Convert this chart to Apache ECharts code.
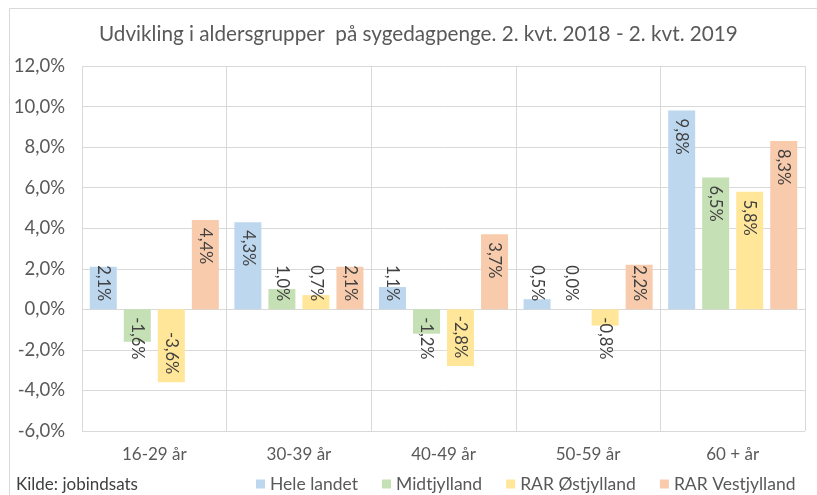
<!DOCTYPE html>
<html>
<head>
<meta charset="utf-8">
<script src="https://cdn.jsdelivr.net/npm/echarts@6/dist/echarts.min.js"></script>
<style>
  html, body { margin: 0; padding: 0; background: #fff; }
  #chart { width: 817px; height: 495px; }
</style>
</head>
<body>
<div id="chart"></div>
<script>
const categories = ["16-29 år", "30-39 år", "40-49 år", "50-59 år", "60 + år"];
const seriesNames = ["Hele landet", "Midtjylland", "RAR Østjylland", "RAR Vestjylland"];
const heleLandet = [2.1, 4.3, 1.1, 0.5, 9.8];
const midtjylland = [-1.6, 1.0, -1.2, 0.0, 6.5];
const rarOst = [-3.6, 0.7, -2.8, -0.8, 5.8];
const rarVest = [4.4, 2.1, 3.7, 2.2, 8.3];
const yTicks = { min: -6, max: 12, interval: 2 };

const COLORS = ["#BDD7EE", "#C5E0B4", "#FFE699", "#F8CBAD"];
const FONT = "Lato, 'Open Sans', sans-serif";

const pct = (v) => v.toFixed(1).replace(".", ",") + "%";

// Excel-ish "inside end": if the label does not fit, push it against the base
function labelFor(v) {
  const long = Math.abs(v) >= 2.6;
  let position, align;
  if (v >= 0) {
    position = long ? "insideTop" : "insideBottom";
    align = long ? "left" : "right";
  } else {
    position = long ? "insideBottom" : "insideTop";
    align = long ? "right" : "left";
  }
  return { position, align };
}

const series = [heleLandet, midtjylland, rarOst, rarVest].map((vals, i) => ({
  name: seriesNames[i],
  type: "bar",
  barWidth: 27,
  barGap: "26%",
  itemStyle: { color: COLORS[i] },
  data: vals.map((v) => ({
    value: v,
    label: {
      show: true,
      ...labelFor(v),
      verticalAlign: "middle",
      rotate: -90,
      distance: 8,
      color: "#404040",
      fontSize: 16.5,
      fontFamily: FONT,
      formatter: (p) => pct(p.value),
    },
  })),
}));

const chart = echarts.init(document.getElementById("chart"), null, { renderer: "canvas" });
chart.setOption({
  animation: false,
  backgroundColor: "#fff",
  color: COLORS,
  title: {
    text: "Udvikling i aldersgrupper  på sygedagpenge. 2. kvt. 2018 - 2. kvt. 2019",
    left: 94,
    top: 19,
    textStyle: { color: "#595959", fontSize: 20.7, fontWeight: "normal", fontFamily: FONT },
  },
  grid: { left: 82, right: 12, top: 66, bottom: 64 },
  legend: {
    left: 251,
    top: 470,
    icon: "rect",
    itemWidth: 9,
    itemHeight: 9,
    itemGap: 24,
    textStyle: { color: "#595959", fontSize: 17.5, fontFamily: FONT },
    data: seriesNames,
  },
  xAxis: {
    type: "category",
    data: categories,
    axisLine: { onZero: false, show: false },
    axisTick: { show: false },
    axisLabel: { color: "#595959", fontSize: 17, fontFamily: FONT, margin: 15 },
    splitLine: { show: true, lineStyle: { color: "#D9D9D9", width: 1 } },
  },
  yAxis: {
    type: "value",
    min: yTicks.min,
    max: yTicks.max,
    interval: yTicks.interval,
    axisLine: { show: false },
    axisTick: { show: false },
    axisLabel: { color: "#595959", fontSize: 18.5, fontFamily: FONT, margin: 17, formatter: pct },
    splitLine: { lineStyle: { color: "#D9D9D9", width: 1 } },
  },
  graphic: [
    {
      type: "rect",
      shape: { x: 9.5, y: 8.5, width: 900, height: 600 },
      style: { fill: null, stroke: "#D9D9D9", lineWidth: 1 },
      silent: true,
    },
    {
      type: "text",
      left: 16,
      top: 476,
      style: { text: "Kilde: jobindsats", fill: "#404040", font: "17px " + FONT },
    },
  ],
  series,
});
</script>
</body>
</html>
